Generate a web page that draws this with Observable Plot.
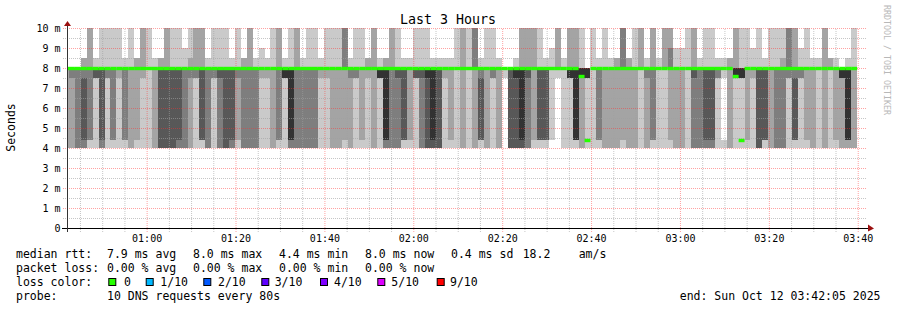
<!DOCTYPE html>
<html>
<head>
<meta charset="utf-8">
<script src="https://cdn.jsdelivr.net/npm/d3@7"></script>
<script src="https://cdn.jsdelivr.net/npm/@observablehq/plot@0.6"></script>
<style>
  html, body { margin: 0; padding: 0; background: #fff; }
  #chart svg { display: block; }
</style>
</head>
<body>
<div id="chart"></div>
<script>
// ---------------- data ----------------
const chartTitle = "Last 3 Hours";
const yAxisTitle = "Seconds";
const watermark = "RRDTOOL / TOBI OETIKER";
const graphStart = "2025-10-12T00:42:05Z";
const graphEnd = "2025-10-12T03:42:05Z";
const firstStepStart = "2025-10-12T00:41:12Z";
const stepSeconds = 80;

// y tick values (ms) and labels
const yTickValues = [0, 1, 2, 3, 4, 5, 6, 7, 8, 9, 10];
const yTickLabels = ["0", "1 m", "2 m", "3 m", "4 m", "5 m", "6 m", "7 m", "8 m", "9 m", "10 m"];
// x tick labels
const xTickLabels = ["01:00", "01:20", "01:40", "02:00", "02:20", "02:40", "03:00", "03:20", "03:40"];

// rtt levels (ms) bounding the smoke zones:
// zone order: [7.5-8], [4.4-7.5], [4.0-4.4], [8-8.5], [8.5-9], [9-10]
const zoneLevels = [[7.5, 8], [4.4, 7.5], [4.0, 4.4], [8, 8.5], [8.5, 9], [9, 10]];

// smoke depth per step: one digit per zone = number of ping pairs covering it (0..5)
const smokeA = ["222000","322000","333000","343200","331222","411100","443111","311111","331111","211111",
  "331100","222111","221200","211222","111111","222100","444200","444222","444111","443111",
  "333110","322211","311222","441222","333100","311111","433111","444111","443100","321111",
  "333200","333222","333100","211110"];
const smokeB = ["211100","222111","331222","511100","553111","333222","333100","333111","333111","211100",
  "211111","222111","222111","221333","322100","311111","221111","211200","222222","511100",
  "553200","333222","433111","441100","221100","411111","433111","544111","554100","444100",
  "211100","221100","111111","222222"];
const smokeC = ["111111","222333","341100","222111","311111","222100","100000","444000","544100","554222",
  "433222","221222","441111","441100","110110","100222","111100","511222","551222","522111",
  "511000","111111","331100","222111","222100","222200","221333","222200","222111","111222",
  "322100","331222","111100","111222"];
const smokeD = ["221332","222110","222110","111111","433222","333100","443111","443111","311100","101100",
  "222200","511222","511111","221111","211110","444111","441100","222111","333111","333211",
  "311333","341222","311110","221111","222100","111100","222222","111200","221100","522000",
  "552100","222111"];

// median rtt per step (ms)
const medianA = [8,8,8,8,8,8,8,8,8,8, 8,8,8,8,8,8,8,8,8,8, 8,8,8,8,8,8,8,8,8,8, 8,8,8,8];
const medianB = [8,8,8,8,8,8,8,8,8,8, 8,8,8,8,8,8,8,8,8,8, 8,8,8,8,8,8,8,8,8,8, 8,8,8,8];
const medianC = [8,8,8,8,8,8,8,8,8,8, 8,8,8,8,8,8,8,8,8,7.6, 4.4,8,8,8,8,8,8,8,8,8, 8,8,8,8];
const medianD = [8,8,8,8,8,8,8,8,8,8, 8,7.6,4.4,8,8,8,8,8,8,8, 8,8,8,8,8,8,8,8,8,8, 8,8];

// legend
const medianStats = ["7.9 ms avg", "8.0 ms max", "4.4 ms min", "8.0 ms now", "0.4 ms sd"];
const medianExtra = ["18.2", "am/s"];
const lossStats = ["0.00 % avg", "0.00 % max", "0.00 % min", "0.00 % now"];
const lossLabels = ["0", "1/10", "2/10", "3/10", "4/10", "5/10", "9/10"];
const lossColors = ["#26ff00", "#00b8ff", "#0059ff", "#5e00ff", "#7e00ff", "#dd00ff", "#ff0000"];
const probeText = "10 DNS requests every 80s";
const endText = "end: Sun Oct 12 03:42:05 2025";

// ---------------- build ----------------
const t0 = new Date(graphStart), t1 = new Date(graphEnd);
const secPerPx = (t1 - t0) / 1000 / 800;
const s0 = new Date(firstStepStart).getTime();
const steps = [...smokeA, ...smokeB, ...smokeC, ...smokeD];
const medians = [...medianA, ...medianB, ...medianC, ...medianD];

const smokeRects = [];
const medianRects = [];
steps.forEach((code, i) => {
  const x1 = new Date(s0 + i * stepSeconds * 1000);
  const x2 = new Date(s0 + (i + 1) * stepSeconds * 1000);
  [...code].forEach((ch, z) => {
    const depth = +ch;
    if (depth > 0) smokeRects.push({x1, x2, y1: zoneLevels[z][0], y2: zoneLevels[z][1], depth});
  });
  medianRects.push({x1, x2, m: medians[i]});
});

const day = graphStart.slice(0, 10);
const xTickTimes = xTickLabels.map(l => new Date(`${day}T${l}:00Z`));
const minorTimes = d3.utcMinute.every(5).range(t0, t1).filter(t => !xTickTimes.some(m => +m === +t));
const minorY = d3.range(0.5, 10, 1);
const majorY = d3.range(1, 11, 1);
const pxTime = px => new Date(+t0 + px * secPerPx * 1000);

const plot = Plot.plot({
  width: 897,
  height: 310,
  marginLeft: 67,
  marginRight: 30,
  marginTop: 28,
  marginBottom: 82,
  style: {fontFamily: "'DejaVu Sans Mono', monospace", fontSize: "10px", background: "#fff", color: "#000", overflow: "visible"},
  x: {type: "utc", domain: [t0, t1]},
  y: {domain: [0, 10]},
  color: {type: "ordinal", domain: [1, 2, 3, 4, 5], range: ["#cacaca", "#a4a4a4", "#7e7e7e", "#585858", "#323232"]},
  marks: [
    Plot.rect(smokeRects, {x1: "x1", x2: "x2", y1: "y1", y2: "y2", fill: "depth", clip: true, shapeRendering: "crispEdges", inset: 0}),
    // grid
    Plot.ruleY(minorY, {x1: pxTime(-4), x2: t1, stroke: "#a0a0a0", strokeOpacity: 0.6, strokeDasharray: "1,1"}),
    Plot.ruleX(minorTimes, {y1: -0.2, y2: 10, stroke: "#a0a0a0", strokeOpacity: 0.6, strokeDasharray: "1,1"}),
    Plot.ruleY(majorY, {x1: pxTime(-4), x2: t1, stroke: "#ff3030", strokeOpacity: 0.45, strokeDasharray: "1,1"}),
    Plot.ruleX(xTickTimes, {y1: -0.2, y2: 10, stroke: "#ff3030", strokeOpacity: 0.45, strokeDasharray: "1,1"}),
    // median (loss 0 colour), ~3px band
    Plot.rect(medianRects, {x1: "x1", x2: "x2", y1: d => d.m - 0.11, y2: d => d.m + 0.06, fill: lossColors[0], clip: true}),
    // axes lines
    Plot.ruleY([0], {x1: pxTime(-5), x2: pxTime(802), stroke: "#000"}),
    Plot.ruleX([t0], {y1: -0.2, y2: 10.1, stroke: "#333"}),
    Plot.axisY(yTickValues, {tickFormat: d => yTickLabels[yTickValues.indexOf(d)], tickSize: 0, tickPadding: 7, label: null, fontSize: 10}),
    Plot.axisX(xTickTimes, {tickFormat: d => xTickLabels[xTickTimes.findIndex(t => +t === +d)], tickSize: 0, tickPadding: 6, label: null, fontSize: 10})
  ]
});

document.getElementById("chart").appendChild(plot);

// ---------------- decorations ----------------
const svg = d3.select(plot);
const xs = plot.scale("x"), ys = plot.scale("y");
const ax = xs.apply(t1), ay = ys.apply(0);
const ox = xs.apply(t0), oy = ys.apply(10);
const arrowColor = "#9b1010";
svg.append("path")
  .attr("d", `M${ax + 1},${ay - 3.5}L${ax + 7},${ay + 0.5}L${ax + 1},${ay + 3.5}Z`)
  .attr("fill", arrowColor);
svg.append("path")
  .attr("d", `M${ox - 3},${oy - 2}L${ox + 0.5},${oy - 7}L${ox + 4},${oy - 2}Z`)
  .attr("fill", arrowColor);

const font = "'DejaVu Sans Mono', monospace";
svg.append("text").text(chartTitle)
  .attr("x", 448).attr("y", 24).attr("text-anchor", "middle")
  .attr("font-family", font).attr("font-size", 13.3).attr("fill", "#000");

svg.append("text").text(yAxisTitle)
  .attr("transform", "translate(15,127.5) rotate(-90)")
  .attr("text-anchor", "middle")
  .attr("font-family", font).attr("font-size", 11.5).attr("fill", "#000");

svg.append("text").text(watermark)
  .attr("transform", "translate(883.5,5) rotate(90)")
  .attr("text-anchor", "start")
  .attr("font-family", font).attr("font-size", 8.3).attr("fill", "#b8b8b8");

const lg = svg.append("g").attr("font-family", font).attr("font-size", 11.5).attr("fill", "#000");
const rowY = [258, 272, 286, 300];
const colX = [107, 193, 279, 365, 451];
const put = (s, x, y, anchor = "start") => lg.append("text").text(s).attr("x", x).attr("y", y).attr("text-anchor", anchor).style("white-space", "pre");

put("median rtt:", 16, rowY[0]);
medianStats.forEach((s, i) => put(s, colX[i], rowY[0]));
put(medianExtra[0], 522.7, rowY[0]);
put(medianExtra[1], 578.7, rowY[0]);

put("packet loss:", 16, rowY[1]);
lossStats.forEach((s, i) => put(s, colX[i], rowY[1]));

put("loss color:", 16, rowY[2]);
const boxX = [108.3, 145.7, 203.3, 261.3, 320, 377.3, 436.7];
const labX = [124, 160.3, 218, 274.7, 334, 391.3, 450];
lossColors.forEach((c, i) => {
  lg.append("rect").attr("x", boxX[i] + 0.5).attr("y", rowY[2] - 7.5).attr("width", 7).attr("height", 7)
    .attr("fill", c).attr("stroke", "#000").attr("stroke-width", 1);
  put(lossLabels[i], labX[i], rowY[2]);
});

put("probe:", 16, rowY[3]);
put(probeText, 107, rowY[3]);
put(endText, 880.5, rowY[3], "end");
</script>
</body>
</html>
